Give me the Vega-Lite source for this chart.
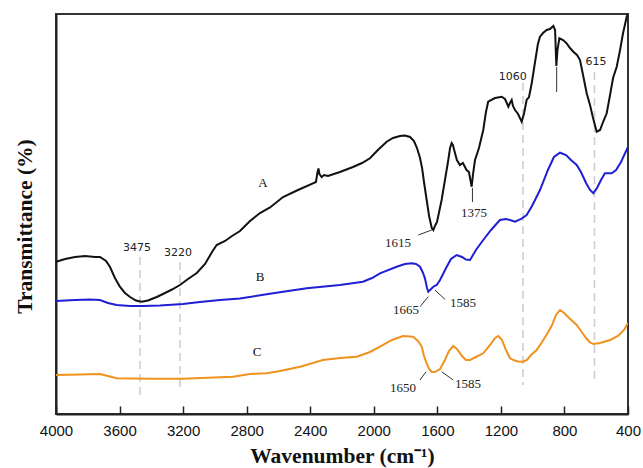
{
  "$schema": "https://vega.github.io/schema/vega-lite/v6.json",
  "width": 572,
  "height": 400,
  "autosize": "none",
  "padding": {"left": 56, "top": 14, "right": 15, "bottom": 54},
  "background": "white",
  "config": {
    "view": {"stroke": "#333", "strokeWidth": 2},
    "axis": {"grid": false}
  },
  "datasets": {
    "spectra": [
      {"s":"A","w":4000,"t":152.3},{"s":"A","w":3943,"t":155},{"s":"A","w":3880,"t":157},{"s":"A","w":3817,"t":158},{"s":"A","w":3755,"t":157},{"s":"A","w":3723,"t":157},{"s":"A","w":3685,"t":153},{"s":"A","w":3660,"t":147},{"s":"A","w":3629,"t":136},{"s":"A","w":3597,"t":127},{"s":"A","w":3566,"t":121},{"s":"A","w":3534,"t":117},{"s":"A","w":3497,"t":113.5},{"s":"A","w":3461,"t":112.3},{"s":"A","w":3421,"t":113.5},{"s":"A","w":3366,"t":117},{"s":"A","w":3314,"t":121},{"s":"A","w":3270,"t":124.5},{"s":"A","w":3220,"t":129},{"s":"A","w":3169,"t":135},{"s":"A","w":3114,"t":141},{"s":"A","w":3062,"t":150},{"s":"A","w":3018,"t":162},{"s":"A","w":2989,"t":169},{"s":"A","w":2936,"t":173},{"s":"A","w":2892,"t":178},{"s":"A","w":2842,"t":183},{"s":"A","w":2779,"t":193},{"s":"A","w":2716,"t":201},{"s":"A","w":2653,"t":206.5},{"s":"A","w":2571,"t":217},{"s":"A","w":2477,"t":224},{"s":"A","w":2383,"t":230.7},{"s":"A","w":2364,"t":232},{"s":"A","w":2354,"t":242},{"s":"A","w":2348,"t":245.5},{"s":"A","w":2342,"t":240},{"s":"A","w":2328,"t":237},{"s":"A","w":2313,"t":239},{"s":"A","w":2288,"t":238},{"s":"A","w":2213,"t":242},{"s":"A","w":2131,"t":247},{"s":"A","w":2074,"t":251},{"s":"A","w":2024,"t":255.7},{"s":"A","w":1974,"t":264},{"s":"A","w":1919,"t":272.3},{"s":"A","w":1879,"t":276},{"s":"A","w":1835,"t":278},{"s":"A","w":1804,"t":278.5},{"s":"A","w":1772,"t":277},{"s":"A","w":1747,"t":273},{"s":"A","w":1728,"t":266},{"s":"A","w":1709,"t":256},{"s":"A","w":1696,"t":246},{"s":"A","w":1684,"t":232},{"s":"A","w":1667,"t":214},{"s":"A","w":1652,"t":198},{"s":"A","w":1635,"t":186},{"s":"A","w":1625,"t":184},{"s":"A","w":1615,"t":188},{"s":"A","w":1602,"t":192},{"s":"A","w":1573,"t":214},{"s":"A","w":1552,"t":234},{"s":"A","w":1531,"t":254},{"s":"A","w":1520,"t":266},{"s":"A","w":1510,"t":271},{"s":"A","w":1502,"t":269},{"s":"A","w":1489,"t":261},{"s":"A","w":1477,"t":254},{"s":"A","w":1458,"t":249},{"s":"A","w":1439,"t":251},{"s":"A","w":1416,"t":244},{"s":"A","w":1401,"t":242},{"s":"A","w":1384,"t":227.3},{"s":"A","w":1376,"t":239},{"s":"A","w":1363,"t":254},{"s":"A","w":1338,"t":266},{"s":"A","w":1311,"t":284},{"s":"A","w":1294,"t":302},{"s":"A","w":1280,"t":312.3},{"s":"A","w":1237,"t":316},{"s":"A","w":1195,"t":317.3},{"s":"A","w":1174,"t":315},{"s":"A","w":1153,"t":307.3},{"s":"A","w":1143,"t":311},{"s":"A","w":1132,"t":314},{"s":"A","w":1124,"t":308},{"s":"A","w":1111,"t":304},{"s":"A","w":1092,"t":300},{"s":"A","w":1069,"t":292.3},{"s":"A","w":1055,"t":300},{"s":"A","w":1038,"t":314},{"s":"A","w":1023,"t":317},{"s":"A","w":1006,"t":330.7},{"s":"A","w":985,"t":352},{"s":"A","w":967,"t":370},{"s":"A","w":954,"t":377.3},{"s":"A","w":935,"t":381},{"s":"A","w":912,"t":384},{"s":"A","w":891,"t":385},{"s":"A","w":870,"t":388},{"s":"A","w":859,"t":384},{"s":"A","w":851,"t":348},{"s":"A","w":844,"t":364},{"s":"A","w":832,"t":375.7},{"s":"A","w":809,"t":374},{"s":"A","w":786,"t":370.7},{"s":"A","w":765,"t":366},{"s":"A","w":744,"t":362.3},{"s":"A","w":721,"t":359},{"s":"A","w":702,"t":354},{"s":"A","w":683,"t":339},{"s":"A","w":660,"t":320.7},{"s":"A","w":639,"t":309},{"s":"A","w":620,"t":296},{"s":"A","w":597,"t":282.3},{"s":"A","w":576,"t":284},{"s":"A","w":557,"t":292},{"s":"A","w":534,"t":300.7},{"s":"A","w":513,"t":319},{"s":"A","w":494,"t":336},{"s":"A","w":471,"t":347.3},{"s":"A","w":450,"t":364},{"s":"A","w":431,"t":381},{"s":"A","w":408,"t":397.3},{"s":"A","w":400,"t":400},
      {"s":"B","w":4000,"t":113},{"s":"B","w":3880,"t":114},{"s":"B","w":3786,"t":114.5},{"s":"B","w":3723,"t":114},{"s":"B","w":3673,"t":111},{"s":"B","w":3618,"t":109},{"s":"B","w":3534,"t":108},{"s":"B","w":3452,"t":108},{"s":"B","w":3345,"t":108.5},{"s":"B","w":3201,"t":110},{"s":"B","w":3094,"t":112},{"s":"B","w":2968,"t":114},{"s":"B","w":2842,"t":115.5},{"s":"B","w":2634,"t":120.7},{"s":"B","w":2422,"t":125.7},{"s":"B","w":2213,"t":129},{"s":"B","w":2068,"t":132.3},{"s":"B","w":2011,"t":136},{"s":"B","w":1961,"t":140.7},{"s":"B","w":1856,"t":147.3},{"s":"B","w":1804,"t":150},{"s":"B","w":1761,"t":150.7},{"s":"B","w":1734,"t":150},{"s":"B","w":1709,"t":147.3},{"s":"B","w":1690,"t":141},{"s":"B","w":1678,"t":135.7},{"s":"B","w":1665,"t":126},{"s":"B","w":1657,"t":122.3},{"s":"B","w":1646,"t":124},{"s":"B","w":1625,"t":127.3},{"s":"B","w":1604,"t":129},{"s":"B","w":1583,"t":134},{"s":"B","w":1541,"t":147.3},{"s":"B","w":1514,"t":155},{"s":"B","w":1478,"t":159},{"s":"B","w":1445,"t":157},{"s":"B","w":1420,"t":154.5},{"s":"B","w":1394,"t":154},{"s":"B","w":1357,"t":164},{"s":"B","w":1311,"t":174},{"s":"B","w":1262,"t":184},{"s":"B","w":1206,"t":194},{"s":"B","w":1168,"t":195},{"s":"B","w":1143,"t":194},{"s":"B","w":1111,"t":192.3},{"s":"B","w":1073,"t":195},{"s":"B","w":1038,"t":199},{"s":"B","w":1004,"t":208},{"s":"B","w":954,"t":224},{"s":"B","w":904,"t":244},{"s":"B","w":866,"t":257},{"s":"B","w":828,"t":261.3},{"s":"B","w":790,"t":259},{"s":"B","w":759,"t":254},{"s":"B","w":723,"t":249},{"s":"B","w":696,"t":242},{"s":"B","w":664,"t":231},{"s":"B","w":639,"t":224},{"s":"B","w":618,"t":220.7},{"s":"B","w":595,"t":226},{"s":"B","w":570,"t":234},{"s":"B","w":545,"t":240.7},{"s":"B","w":503,"t":240.7},{"s":"B","w":475,"t":244},{"s":"B","w":444,"t":252},{"s":"B","w":400,"t":267},
      {"s":"C","w":4000,"t":39},{"s":"C","w":3849,"t":39.5},{"s":"C","w":3723,"t":40},{"s":"C","w":3673,"t":38},{"s":"C","w":3618,"t":35.7},{"s":"C","w":3408,"t":35.3},{"s":"C","w":3201,"t":35.3},{"s":"C","w":2886,"t":37.3},{"s":"C","w":2779,"t":40},{"s":"C","w":2674,"t":40.7},{"s":"C","w":2590,"t":43},{"s":"C","w":2464,"t":47.3},{"s":"C","w":2320,"t":54},{"s":"C","w":2213,"t":56},{"s":"C","w":2107,"t":57.3},{"s":"C","w":2024,"t":62},{"s":"C","w":1961,"t":67.3},{"s":"C","w":1885,"t":74},{"s":"C","w":1816,"t":78},{"s":"C","w":1753,"t":77.3},{"s":"C","w":1722,"t":73},{"s":"C","w":1698,"t":67.3},{"s":"C","w":1684,"t":58},{"s":"C","w":1667,"t":50.7},{"s":"C","w":1652,"t":45},{"s":"C","w":1635,"t":42.3},{"s":"C","w":1615,"t":42},{"s":"C","w":1583,"t":45},{"s":"C","w":1552,"t":54},{"s":"C","w":1527,"t":63},{"s":"C","w":1500,"t":68},{"s":"C","w":1476,"t":65},{"s":"C","w":1445,"t":58},{"s":"C","w":1420,"t":54},{"s":"C","w":1394,"t":54},{"s":"C","w":1357,"t":57},{"s":"C","w":1311,"t":60.7},{"s":"C","w":1268,"t":69},{"s":"C","w":1237,"t":76},{"s":"C","w":1216,"t":78},{"s":"C","w":1193,"t":74},{"s":"C","w":1168,"t":64},{"s":"C","w":1143,"t":56},{"s":"C","w":1122,"t":54},{"s":"C","w":1092,"t":52.5},{"s":"C","w":1059,"t":52.3},{"s":"C","w":1036,"t":54},{"s":"C","w":1010,"t":59},{"s":"C","w":975,"t":64},{"s":"C","w":941,"t":72},{"s":"C","w":901,"t":82.3},{"s":"C","w":878,"t":89},{"s":"C","w":853,"t":99},{"s":"C","w":828,"t":104},{"s":"C","w":802,"t":101},{"s":"C","w":771,"t":96},{"s":"C","w":723,"t":89},{"s":"C","w":696,"t":83},{"s":"C","w":664,"t":76},{"s":"C","w":639,"t":71.5},{"s":"C","w":618,"t":70},{"s":"C","w":576,"t":71},{"s":"C","w":513,"t":74},{"s":"C","w":463,"t":78},{"s":"C","w":425,"t":84},{"s":"C","w":400,"t":91}
    ],
    "dashes": [
      {"w":3471,"t1":157,"t2":17},
      {"w":3220,"t1":152,"t2":22},
      {"w":1061,"t1":331,"t2":29},
      {"w":611,"t1":342,"t2":32}
    ],
    "leaders": [
      {"w1":1720,"t1":179,"w2":1635,"t2":184},
      {"w1":1379,"t1":226,"w2":1379,"t2":212},
      {"w1":849,"t1":347,"w2":849,"t2":322},
      {"w1":1709,"t1":107.3,"w2":1657,"t2":117.3},
      {"w1":1552,"t1":114.7,"w2":1615,"t2":124},
      {"w1":1709,"t1":34,"w2":1671,"t2":42.3},
      {"w1":1500,"t1":34,"w2":1573,"t2":42.3}
    ],
    "curveNames": [
      {"label":"A","w":2697,"t":231},
      {"label":"B","w":2716,"t":137},
      {"label":"C","w":2735,"t":62}
    ],
    "sansPeaks": [
      {"label":"3475","w":3490,"t":166},
      {"label":"3220","w":3232,"t":161},
      {"label":"1060","w":1126,"t":337},
      {"label":"615","w":601,"t":352}
    ],
    "serifPeaks": [
      {"label":"1615","w":1848,"t":171},
      {"label":"1375","w":1369,"t":201},
      {"label":"1665","w":1797,"t":104},
      {"label":"1585","w":1439,"t":111},
      {"label":"1650","w":1816,"t":26},
      {"label":"1585","w":1407,"t":30}
    ]
  },
  "layer": [
    {
      "data": {"name": "dashes"},
      "mark": {"type": "rule", "color": "#cfcfcf", "strokeWidth": 1.6, "strokeDash": [8, 5]},
      "encoding": {
        "x": {"field": "w", "type": "quantitative"},
        "y": {"field": "t1", "type": "quantitative"},
        "y2": {"field": "t2"}
      }
    },
    {
      "data": {"name": "spectra"},
      "mark": {"type": "line", "strokeWidth": 2, "clip": true},
      "encoding": {
        "x": {
          "field": "w", "type": "quantitative",
          "scale": {"domain": [400, 4000], "reverse": true, "nice": false, "zero": false},
          "axis": {
            "values": [4000, 3600, 3200, 2800, 2400, 2000, 1600, 1200, 800, 400],
            "format": "d",
            "tickSize": -8,
            "tickWidth": 1.5,
            "tickColor": "#222",
            "domainColor": "#222",
            "domainWidth": 2,
            "labelFont": "Liberation Sans",
            "labelFontSize": 15,
            "labelColor": "#111",
            "labelPadding": 17,
            "labelFlush": false,
            "title": "Wavenumber (cm⁻¹)",
            "titleFont": "Liberation Serif",
            "titleFontSize": 21.5,
            "titleFontWeight": "bold",
            "titleColor": "#111",
            "titlePadding": 7
          }
        },
        "y": {
          "field": "t", "type": "quantitative",
          "scale": {"domain": [0, 400], "nice": false, "zero": false},
          "axis": {
            "labels": false,
            "ticks": false,
            "domainColor": "#222",
            "domainWidth": 2,
            "title": "Transmittance (%)",
            "titleFont": "Liberation Serif",
            "titleFontSize": 21.5,
            "titleFontWeight": "bold",
            "titleColor": "#111",
            "titlePadding": 20,
            "titleY": 212
          }
        },
        "color": {
          "field": "s", "type": "nominal",
          "scale": {"domain": ["A", "B", "C"], "range": ["#111111", "#1f1fd6", "#f0921e"]},
          "legend": null
        }
      }
    },
    {
      "data": {"name": "leaders"},
      "mark": {"type": "rule", "color": "#333", "strokeWidth": 1},
      "encoding": {
        "x": {"field": "w1", "type": "quantitative"},
        "y": {"field": "t1", "type": "quantitative"},
        "x2": {"field": "w2"},
        "y2": {"field": "t2"}
      }
    },
    {
      "data": {"name": "curveNames"},
      "mark": {"type": "text", "font": "Liberation Serif", "fontSize": 13, "color": "#111", "align": "center", "baseline": "middle"},
      "encoding": {
        "x": {"field": "w", "type": "quantitative"},
        "y": {"field": "t", "type": "quantitative"},
        "text": {"field": "label"}
      }
    },
    {
      "data": {"name": "sansPeaks"},
      "mark": {"type": "text", "font": "DejaVu Sans", "fontSize": 11, "color": "#222", "align": "center", "baseline": "middle"},
      "encoding": {
        "x": {"field": "w", "type": "quantitative"},
        "y": {"field": "t", "type": "quantitative"},
        "text": {"field": "label"}
      }
    },
    {
      "data": {"name": "serifPeaks"},
      "mark": {"type": "text", "font": "Liberation Serif", "fontSize": 13, "color": "#222", "align": "center", "baseline": "middle"},
      "encoding": {
        "x": {"field": "w", "type": "quantitative"},
        "y": {"field": "t", "type": "quantitative"},
        "text": {"field": "label"}
      }
    }
  ]
}
